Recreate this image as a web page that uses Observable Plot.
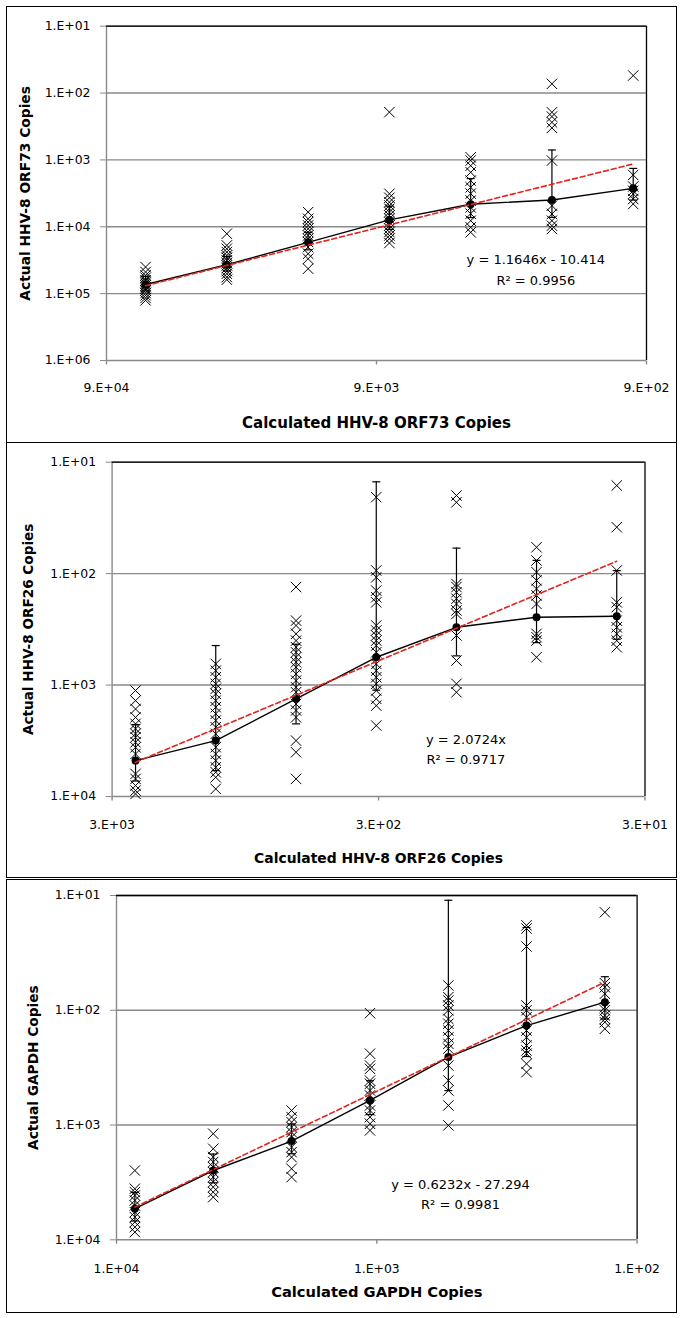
<!DOCTYPE html>
<html><head><meta charset="utf-8">
<script src="https://cdn.jsdelivr.net/npm/d3@7"></script>
<script src="https://cdn.jsdelivr.net/npm/@observablehq/plot@0.6"></script>
<style>
body{margin:0;background:#fff;width:685px;height:1318px;position:relative;font-family:"DejaVu Sans",sans-serif;}
.panel{position:absolute;left:6px;width:671px;border:1px solid #000;box-sizing:border-box;background:#fff;}
.panel svg{display:block;}
</style></head><body>
<div id="p1" class="panel" style="top:6px;height:437px"></div>
<div id="p2" class="panel" style="top:442px;height:436px"></div>
<div id="p3" class="panel" style="top:879px;height:434px"></div>
<script>
// ---------- Panel 1: HHV-8 ORF73 ----------
const p1Calc = [64500, 32250, 16125, 8062, 4031, 2016, 1008];
const p1Actual = [
  [40000, 47500, 53300, 57800, 63400, 67100, 71100, 75200, 79700, 84400, 89300, 97900, 106000, 116000, 126000],
  [12700, 19000, 21300, 23900, 26800, 29000, 31800, 34900, 37800, 41400, 46000, 50400, 56500, 61900],
  [6030, 7590, 8510, 9550, 10700, 12000, 13500, 15100, 16900, 20100, 25300, 30100, 42400],
  [193, 3210, 3680, 4280, 4800, 5380, 6030, 6760, 7590, 8510, 9550, 10700, 12000, 13500, 15100, 17500],
  [914, 1020, 1220, 1530, 2040, 2570, 3190, 4060, 5130, 6370, 8110, 10200, 12100],
  [72.8, 194, 225, 274, 332, 1023, 4830, 6430, 8110, 9630, 10800],
  [54.7, 1680, 2500, 2900, 3230, 3840, 4560]
];
const p1Mean = [73000, 36900, 17100, 7900, 4600, 3970, 2660];
const p1Sd = [18000, 9000, 5000, 3000, 2700, 3260, 1320];
const p1TrendX = [64500, 1008];
const p1TrendY = [76000, 1150];
const p1XTicks = [90000, 9000, 900];
const p1YTicks = [10, 100, 1000, 10000, 100000, 1000000];
const p1Eq = "y = 1.1646x - 10.414\nR\u00b2 = 0.9956";
const p1XTitle = "Calculated HHV-8 ORF73 Copies";
const p1YTitle = "Actual HHV-8 ORF73 Copies";

// ---------- Panel 2: HHV-8 ORF26 ----------
const p2Calc = [2450, 1225, 612, 306, 153, 76.6, 38.3];
const p2Actual = [
  [1120, 1380, 1640, 1950, 2230, 2470, 2740, 2940, 3260, 3620, 4150, 6270, 6950, 7980, 8850, 9480],
  [646, 742, 851, 975, 1080, 1200, 1380, 1580, 1810, 2080, 2390, 2740, 3610, 4150, 4760, 5470, 6060, 6730, 8550],
  [132, 264, 292, 347, 399, 458, 508, 563, 624, 692, 794, 912, 1047, 1160, 1480, 1690, 1950, 3150, 4010, 6950],
  [20.6, 93.7, 108, 142, 163, 181, 292, 324, 359, 399, 442, 508, 646, 742, 851, 975, 1120, 1330, 1530, 2310],
  [19.9, 22.9, 124, 132, 147, 168, 187, 214, 230, 359, 603, 975, 1160],
  [58, 76.2, 97, 115, 137, 157, 187, 347, 372, 399, 563],
  [16.2, 38.3, 93.7, 181, 200, 264, 303, 347, 399, 458]
];
const p2Mean = [4760, 3150, 1330, 563, 303, 246, 241];
const p2Sd = [2500, 2708, 900, 548, 244, 170, 147];
const p2TrendX = [2450, 38.3];
const p2TrendY = [4930, 77.4];
const p2XTicks = [3000, 300, 30];
const p2YTicks = [10, 100, 1000, 10000];
const p2Eq = "y = 2.0724x\nR\u00b2 = 0.9717";
const p2XTitle = "Calculated HHV-8 ORF26 Copies";
const p2YTitle = "Actual HHV-8 ORF26 Copies";

// ---------- Panel 3: GAPDH ----------
const p3Calc = [8500, 4250, 2125, 1062, 531, 266, 133];
const p3Actual = [
  [2490, 3590, 3840, 4110, 4540, 5020, 5740, 6340, 7010, 7750, 8570],
  [1190, 1610, 1900, 2100, 2330, 2570, 2840, 3140, 3470, 3840, 4250],
  [747, 853, 944, 1043, 1153, 1274, 1558, 1723, 1904, 2405, 2845],
  [106, 239, 303, 324, 410, 437, 500, 552, 675, 747, 853, 975, 1114],
  [60.8, 76.9, 82.2, 90.8, 100, 119, 131, 150, 172, 196, 216, 303, 409, 500, 675, 1007],
  [18.2, 19.4, 27.8, 90.8, 100, 115, 150, 172, 203, 224, 239, 293, 346],
  [14, 58, 63, 71.8, 94, 100, 111, 119, 127, 145]
];
const p3Mean = [5360, 2490, 1380, 611, 256, 136, 85];
const p3Sd = [1500, 700, 400, 200, 245, 117, 34];
const p3TrendX = [8500, 133];
const p3TrendY = [5190, 56.9];
const p3XTicks = [10000, 1000, 100];
const p3YTicks = [10, 100, 1000, 10000];
const p3Eq = "y = 0.6232x - 27.294\nR\u00b2 = 0.9981";
const p3XTitle = "Calculated GAPDH Copies";
const p3YTitle = "Actual GAPDH Copies";

// ---------- drawing ----------
const fmtE = d => {
  const [m, e] = d.toExponential(0).split("e");
  return m + ".E" + e[0] + e.slice(1).padStart(2, "0");
};
const capSym = {draw(ctx, size) { const r = Math.sqrt(size / Math.PI); ctx.moveTo(-r, 0); ctx.lineTo(r, 0); }};
const vTickSym = {draw(ctx, size) { const r = Math.sqrt(size / Math.PI); ctx.moveTo(0, 0); ctx.lineTo(0, r); }};
const GRID = "#8a8a8a";

function panel(o) {
  const pts = o.actual.flatMap((arr, i) => arr.map(v => ({x: o.calc[i], y: v})));
  const means = o.calc.map((c, i) => ({x: c, y: o.mean[i], lo: o.mean[i] - o.sd[i], hi: o.mean[i] + o.sd[i]}));
  const trend = o.trendX.map((x, i) => ({x, y: o.trendY[i]}));
  const xd = [o.xTicks[0], o.xTicks[o.xTicks.length - 1]];
  const yd = [o.yTicks[0], o.yTicks[o.yTicks.length - 1]];
  return Plot.plot({
    width: 669, height: o.height,
    marginLeft: o.ml, marginRight: o.mr, marginTop: o.mt, marginBottom: o.mb,
    style: {fontFamily: "DejaVu Sans", fontSize: "12.4px", color: "#000", background: "transparent", overflow: "visible"},
    x: {type: "log", domain: xd, label: null, axis: null},
    y: {type: "log", domain: yd, reverse: true, label: null},
    marks: [
      Plot.gridY(o.yTicks, {stroke: GRID, strokeOpacity: 1, strokeWidth: 1.4}),
      Plot.ruleX([xd[0]], {stroke: GRID, strokeWidth: 1.4}),
      Plot.ruleY([yd[0]], {stroke: "#000", strokeWidth: 1.3}),
      Plot.ruleX([xd[1]], {stroke: "#000", strokeWidth: 1.3}),
      Plot.axisY(o.yTicks, {tickFormat: fmtE, tickSize: 6, tickPadding: 10, stroke: GRID, fill: "#000", label: null}),
      // x axis ticks and labels
      Plot.dot(o.xTicks, {x: d => d, frameAnchor: "bottom", symbol: vTickSym, r: 4, stroke: GRID, fill: "none", strokeWidth: 1.4}),
      Plot.text(o.xTicks, {x: d => d, frameAnchor: "bottom", text: d => fmtE(d), dy: o.xLabDy, lineAnchor: "middle", textAnchor: "middle", fontSize: 12.4, fill: "#000"}),
      Plot.dot(pts, {x: "x", y: "y", symbol: "times", r: 4.8, stroke: "#000", strokeWidth: 1}),
      Plot.ruleX(means, {x: "x", y1: "lo", y2: "hi", stroke: "#000", strokeWidth: 1.2}),
      Plot.dot(means, {x: "x", y: "lo", symbol: capSym, r: 4, stroke: "#000", fill: "none", strokeWidth: 1.2}),
      Plot.dot(means, {x: "x", y: "hi", symbol: capSym, r: 4, stroke: "#000", fill: "none", strokeWidth: 1.2}),
      Plot.line(means, {x: "x", y: "y", stroke: "#000", strokeWidth: 1.4}),
      Plot.dot(means, {x: "x", y: "y", r: 4, fill: "#000", stroke: "none"}),
      Plot.line(trend, {x: "x", y: "y", stroke: "#e3231d", strokeWidth: 1.6, strokeDasharray: "5,3"}),
      Plot.text([{x: o.eqX, y: o.eqY, t: o.eq}], {x: "x", y: "y", text: "t", fontSize: 13, lineHeight: o.eqLH, fill: "#000", textAnchor: "middle", lineAnchor: "middle"}),
      Plot.text([o.xTitle], {text: d => d, frameAnchor: "bottom", lineAnchor: "middle", textAnchor: "middle", dy: o.xTitleDy, fontWeight: "bold", fontSize: o.xTitleSize, fill: "#000"}),
      Plot.text([o.yTitle], {text: d => d, frameAnchor: "left", lineAnchor: "middle", textAnchor: "middle", rotate: -90, dx: o.yTitleDx, fontWeight: "bold", fontSize: o.yTitleSize, fill: "#000"})
    ]
  });
}

document.getElementById("p1").append(panel({
  calc: p1Calc, actual: p1Actual, mean: p1Mean, sd: p1Sd, trendX: p1TrendX, trendY: p1TrendY,
  xTicks: p1XTicks, yTicks: p1YTicks, eq: p1Eq, xTitle: p1XTitle, yTitle: p1YTitle,
  height: 435, ml: 99, mr: 30, mt: 18.7, mb: 82, xLabDy: 28,
  eqX: 2313, eqY: 40900, eqLH: 1.6, xTitleDy: 63, xTitleSize: 15, yTitleDx: -81, yTitleSize: 13.8
}));
document.getElementById("p2").append(panel({
  calc: p2Calc, actual: p2Actual, mean: p2Mean, sd: p2Sd, trendX: p2TrendX, trendY: p2TrendY,
  xTicks: p2XTicks, yTicks: p2YTicks, eq: p2Eq, xTitle: p2XTitle, yTitle: p2YTitle,
  height: 434, ml: 104.6, mr: 31.5, mt: 18.7, mb: 81, xLabDy: 29,
  eqX: 141, eqY: 3614, eqLH: 1.55, xTitleDy: 62, xTitleSize: 13.9, yTitleDx: -83.6, yTitleSize: 13.6
}));
document.getElementById("p3").append(panel({
  calc: p3Calc, actual: p3Actual, mean: p3Mean, sd: p3Sd, trendX: p3TrendX, trendY: p3TrendY,
  xTicks: p3XTicks, yTicks: p3YTicks, eq: p3Eq, xTitle: p3XTitle, yTitle: p3YTitle,
  height: 432, ml: 109, mr: 39.4, mt: 15, mb: 72.7, xLabDy: 29,
  eqX: 477, eqY: 3866, eqLH: 1.6, xTitleDy: 52.4, xTitleSize: 14.7, yTitleDx: -83, yTitleSize: 13.7
}));
</script>
</body></html>
